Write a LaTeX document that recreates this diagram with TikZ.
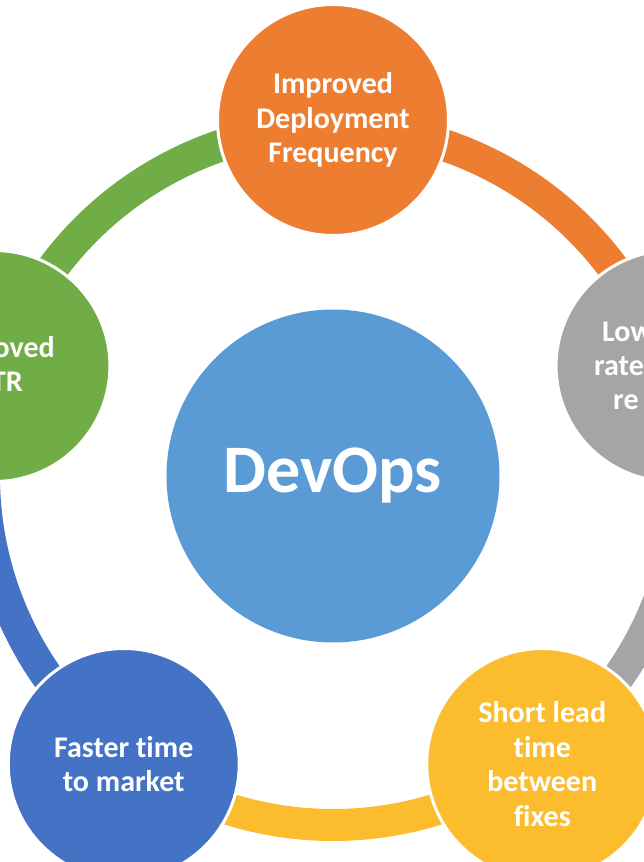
\documentclass[tikz,border=0pt]{standalone}
\usepackage{fontspec}
\setmainfont{Carlito}[Ligatures=NoCommon]
\definecolor{cOrange}{HTML}{ED7D31}
\definecolor{cGray}{HTML}{A5A5A5}
\definecolor{cYellow}{HTML}{FBBC2D}
\definecolor{cBlue}{HTML}{4472C4}
\definecolor{cGreen}{HTML}{70AD47}
\definecolor{cHub}{HTML}{5B9BD5}
\begin{document}
\begin{tikzpicture}[x=1pt,y=1pt,
  ringseg/.style={line width=32pt},
  sat/.style={circle, minimum size=231pt, inner sep=0pt, draw=white, line width=3pt,
    text=white, font=\fontsize{30}{34.5}\selectfont\bfseries, align=center},
  hub/.style={circle, minimum size=333pt, inner sep=0pt, fill=cHub,
    text=white, font=\fontsize{68}{72}\selectfont\bfseries},
  frag/.style={inner sep=0pt, text=white, font=\fontsize{30}{34.5}\selectfont\bfseries}]
\useasboundingbox (-333,-386) rectangle (311,476);
\clip (-333,-386) rectangle (311,476);
% ring coordinates
\coordinate (r90) at (90:349);
\coordinate (r162) at (162:349);
\coordinate (r18) at (18:349);
\coordinate (r234) at (234:349);
\coordinate (r306) at (306:349);
% ring segments
\draw[ringseg, draw=cOrange] (r18) arc[start angle=18, end angle=90, radius=349];
\draw[ringseg, draw=cGreen] (r90) arc[start angle=90, end angle=162, radius=349];
\draw[ringseg, draw=cBlue] (r162) arc[start angle=162, end angle=234, radius=349];
\draw[ringseg, draw=cYellow] (r234) arc[start angle=234, end angle=306, radius=349];
\draw[ringseg, draw=cGray] (r306) arc[start angle=306, end angle=378, radius=349];
% hub
\node[hub] (devops) at (0,0) {DevOps};
% satellites
\node[sat, fill=cOrange] (deploy) at (90:356) {Improved\\Deployment\\Frequency};
\node[sat, fill=cGreen] (mttr) at (162:356) {};
\node[sat, fill=cGray] (fail) at (18:356) {};
\node[sat, fill=cBlue] (market) at (234:356) {Faster time\\to market};
\node[sat, fill=cYellow] (lead) at (306:356) {Short lead\\time\\between\\fixes};
% text fragments cut by the picture edge
\node[frag, anchor=base east] (mttr1) at (-278,118) {oved};
\node[frag, anchor=base east] (mttr2) at (-310,84) {TR};
\node[frag, anchor=base west] (fail1) at (269,134) {Low};
\node[frag, anchor=base west] (fail2) at (261,100) {rate};
\node[frag, anchor=base west] (fail3) at (280,66) {re};
\end{tikzpicture}
\end{document}
